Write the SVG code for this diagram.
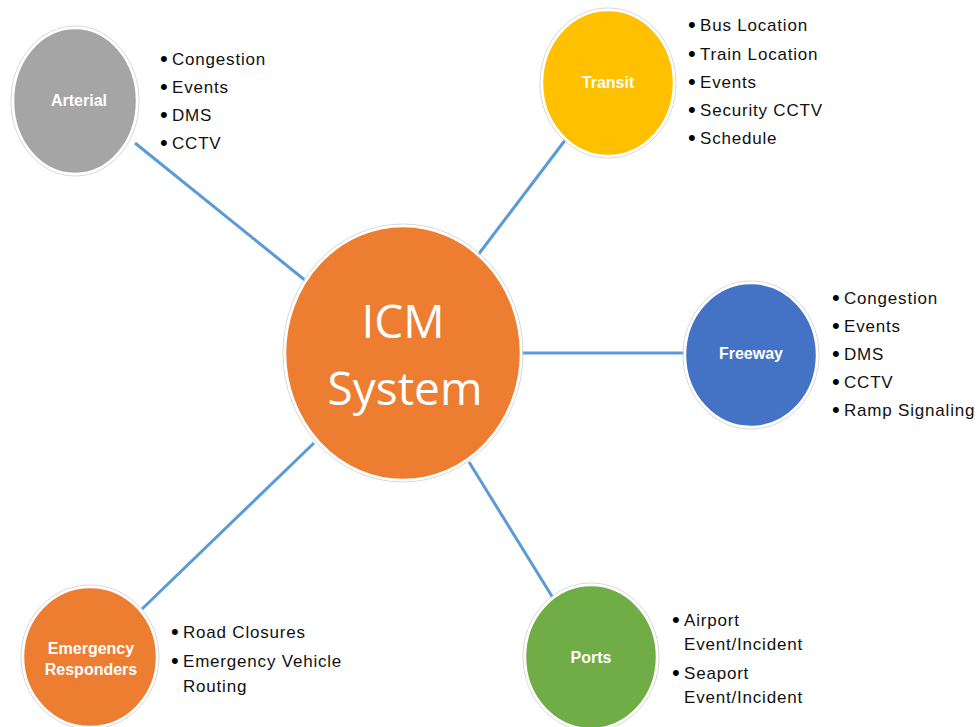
<svg xmlns="http://www.w3.org/2000/svg" width="979" height="727" viewBox="0 0 979 727">
<style>
.ring{fill:none;stroke:#d6d6d6;stroke-width:1}
.node{stroke:#ffffff;stroke-width:2.5}
.lbl{font-family:"Liberation Sans",Arial,sans-serif;font-weight:bold;font-size:16px;fill:#ffffff;text-anchor:middle}
.big{font-family:"Open Sans","Liberation Sans",sans-serif;font-size:46px;fill:#ffffff;text-anchor:middle}
.li{font-family:"Liberation Sans",Arial,sans-serif;font-size:17px;fill:#111111;letter-spacing:0.8px}
.b{font-size:22px;fill:#000000}
.conn line{stroke:#5b9bd5;stroke-width:3}
</style>
<rect width="979" height="727" fill="#ffffff"/>
<g class="conn" id="connectors">
<line x1="135" y1="143" x2="306" y2="281"/>
<line x1="566" y1="139" x2="478" y2="255"/>
<line x1="520" y1="353" x2="686" y2="353"/>
<line x1="142" y1="609" x2="314" y2="443"/>
<line x1="469" y1="462" x2="553" y2="598"/>
</g>
<g id="icm">
<ellipse class="ring" cx="403" cy="353" rx="120" ry="129"/>
<ellipse class="node" cx="403" cy="353" rx="118" ry="127" fill="#ed7d31"/>
<text class="big" x="403" y="338">ICM</text>
<text class="big" x="405" y="405">System</text>
</g>
<g id="arterial">
<ellipse class="ring" cx="75" cy="101" rx="64" ry="75"/>
<ellipse class="node" cx="75" cy="101" rx="62" ry="73" fill="#a5a5a5"/>
<text class="lbl" x="79" y="106">Arterial</text>
<text class="li"><tspan class="b" x="160" y="66">•</tspan><tspan x="172" y="65">Congestion</tspan><tspan class="b" x="160" y="94">•</tspan><tspan x="172" y="93">Events</tspan><tspan class="b" x="160" y="122">•</tspan><tspan x="172" y="121">DMS</tspan><tspan class="b" x="160" y="150">•</tspan><tspan x="172" y="149">CCTV</tspan></text>
</g>
<g id="transit">
<ellipse class="ring" cx="608" cy="83" rx="68" ry="75"/>
<ellipse class="node" cx="608" cy="83" rx="66" ry="73" fill="#ffc000"/>
<text class="lbl" x="608" y="88">Transit</text>
<text class="li"><tspan class="b" x="688" y="32">•</tspan><tspan x="700" y="31">Bus Location</tspan><tspan class="b" x="688" y="61">•</tspan><tspan x="700" y="60">Train Location</tspan><tspan class="b" x="688" y="89">•</tspan><tspan x="700" y="88">Events</tspan><tspan class="b" x="688" y="117">•</tspan><tspan x="700" y="116">Security CCTV</tspan><tspan class="b" x="688" y="145">•</tspan><tspan x="700" y="144">Schedule</tspan></text>
</g>
<g id="freeway">
<ellipse class="ring" cx="751" cy="355" rx="68" ry="74"/>
<ellipse class="node" cx="751" cy="355" rx="66" ry="72" fill="#4472c4"/>
<text class="lbl" x="751" y="359">Freeway</text>
<text class="li"><tspan class="b" x="832" y="305">•</tspan><tspan x="844" y="304">Congestion</tspan><tspan class="b" x="832" y="333">•</tspan><tspan x="844" y="332">Events</tspan><tspan class="b" x="832" y="361">•</tspan><tspan x="844" y="360">DMS</tspan><tspan class="b" x="832" y="389">•</tspan><tspan x="844" y="388">CCTV</tspan><tspan class="b" x="832" y="417">•</tspan><tspan x="844" y="416">Ramp Signaling</tspan></text>
</g>
<g id="emergency">
<ellipse class="ring" cx="90" cy="657" rx="69" ry="72"/>
<ellipse class="node" cx="90" cy="657" rx="67" ry="70" fill="#ed7d31"/>
<text class="lbl" x="91" y="654">Emergency</text>
<text class="lbl" x="91" y="675">Responders</text>
<text class="li"><tspan class="b" x="171" y="639">•</tspan><tspan x="183" y="638">Road Closures</tspan><tspan class="b" x="171" y="668">•</tspan><tspan x="183" y="667">Emergency Vehicle</tspan><tspan x="183" y="692">Routing</tspan></text>
</g>
<g id="ports">
<ellipse class="ring" cx="591" cy="657" rx="68" ry="74"/>
<ellipse class="node" cx="591" cy="657" rx="66" ry="72" fill="#70ad47"/>
<text class="lbl" x="591" y="663">Ports</text>
<text class="li"><tspan class="b" x="672" y="627">•</tspan><tspan x="684" y="626">Airport</tspan><tspan x="684" y="650">Event/Incident</tspan><tspan class="b" x="672" y="680">•</tspan><tspan x="684" y="679">Seaport</tspan><tspan x="684" y="703">Event/Incident</tspan></text>
</g>
</svg>
